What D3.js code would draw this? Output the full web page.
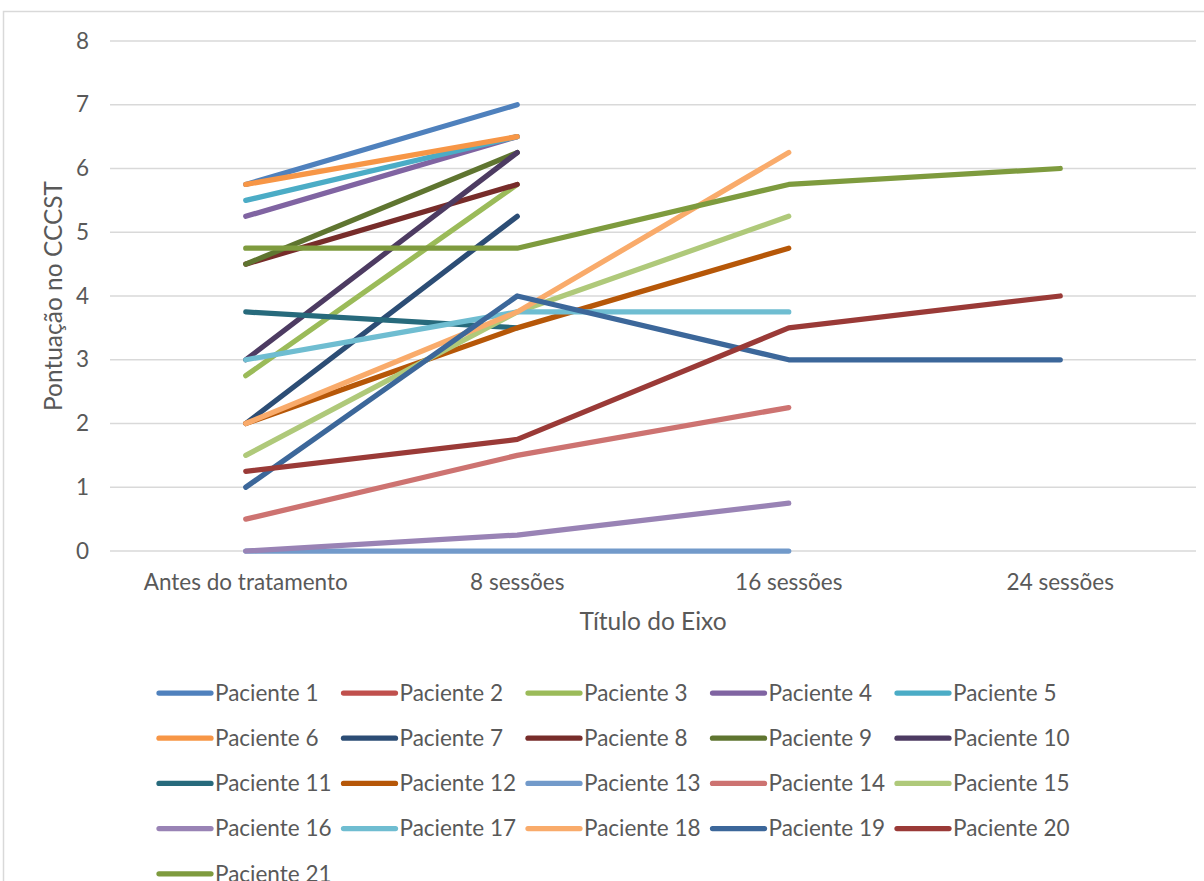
<!DOCTYPE html>
<html>
<head>
<meta charset="utf-8">
<script src="https://cdn.jsdelivr.net/npm/d3@7"></script>
<style>
  body { margin: 0; background: #fff; }
  text { font-family: Lato, "Open Sans", sans-serif; fill: #595959; }
</style>
</head>
<body>
<script>
const categories = ["Antes do tratamento", "8 sessões", "16 sessões", "24 sessões"];
const yTicks = [0, 1, 2, 3, 4, 5, 6, 7, 8];

const seriesNames = [
  "Paciente 1", "Paciente 2", "Paciente 3", "Paciente 4", "Paciente 5",
  "Paciente 6", "Paciente 7", "Paciente 8", "Paciente 9", "Paciente 10",
  "Paciente 11", "Paciente 12", "Paciente 13", "Paciente 14", "Paciente 15",
  "Paciente 16", "Paciente 17", "Paciente 18", "Paciente 19", "Paciente 20",
  "Paciente 21"
];

const seriesColors = [
  "#4f81bd", "#c0504d", "#9bbb59", "#8064a2", "#4bacc6",
  "#f79646", "#2c4d75", "#772c2a", "#5f7530", "#4d3b62",
  "#276a7c", "#b65708", "#729aca", "#cd7371", "#afc97a",
  "#9983b5", "#6fbdd1", "#f9ab6b", "#3c679a", "#9a3a37",
  "#7e9b3e"
];

// one row per patient, null = no value at that stage
const seriesValues = [
  [5.75, 7, null, null],
  [null, null, null, null],
  [2.75, 5.75, null, null],
  [5.25, 6.5, null, null],
  [5.5, 6.5, null, null],
  [5.75, 6.5, null, null],
  [2, 5.25, null, null],
  [4.5, 5.75, null, null],
  [4.5, 6.25, null, null],
  [3, 6.25, null, null],
  [3.75, 3.5, null, null],
  [2, 3.5, 4.75, null],
  [0, 0, 0, null],
  [0.5, 1.5, 2.25, null],
  [1.5, 3.75, 5.25, null],
  [0, 0.25, 0.75, null],
  [3, 3.75, 3.75, null],
  [2, 3.75, 6.25, null],
  [1, 4, 3, 3],
  [1.25, 1.75, 3.5, 4],
  [4.75, 4.75, 5.75, 6]
];

const W = 1204, H = 881;
const plot = { left: 110, right: 1196, top: 41, bottom: 551 };

const svg = d3.select("body").append("svg")
  .attr("width", W)
  .attr("height", H);

// chart frame (only the top edge is visible in the crop)
svg.append("rect")
  .attr("x", 3.5).attr("y", 11.5)
  .attr("width", W + 10).attr("height", H + 10)
  .attr("fill", "none")
  .attr("stroke", "#d9d9d9")
  .attr("stroke-width", 1.5);

const x = d3.scaleBand()
  .domain(categories)
  .range([plot.left, plot.right]);

const y = d3.scaleLinear()
  .domain([0, 8])
  .range([plot.bottom, plot.top]);

// gridlines
svg.append("g").selectAll("line")
  .data(yTicks)
  .enter()
  .append("line")
  .attr("x1", plot.left)
  .attr("x2", plot.right)
  .attr("y1", d => y(d))
  .attr("y2", d => y(d))
  .attr("stroke", "#d9d9d9")
  .attr("stroke-width", 1.5);

// y axis labels
const yAxis = svg.append("g")
  .attr("transform", `translate(${plot.left - 21},0)`)
  .call(d3.axisLeft(y).tickValues(yTicks).tickSize(0).tickPadding(0));
yAxis.select(".domain").remove();
yAxis.selectAll("text")
  .attr("fill", "#595959")
  .style("font-family", "Lato, sans-serif")
  .style("font-size", "22.5px");

// x axis labels
const xAxis = svg.append("g")
  .attr("transform", `translate(0,${plot.bottom})`)
  .call(d3.axisBottom(x).tickSize(0).tickPadding(23));
xAxis.select(".domain").remove();
xAxis.selectAll("text")
  .attr("fill", "#595959")
  .style("font-family", "Lato, sans-serif")
  .style("font-size", "22.5px");

// axis titles
svg.append("text")
  .attr("x", x.range()[0] + (x.range()[1] - x.range()[0]) / 2)
  .attr("y", 630)
  .attr("text-anchor", "middle")
  .style("font-size", "24.5px")
  .text("Título do Eixo");

svg.append("text")
  .attr("transform", `translate(62,${(plot.top + plot.bottom) / 2}) rotate(-90)`)
  .attr("text-anchor", "middle")
  .style("font-size", "24.5px")
  .text("Pontuação no CCCST");

// lines
const line = d3.line()
  .defined(d => d.v !== null)
  .x(d => x(d.c) + x.bandwidth() / 2)
  .y(d => y(d.v));

const series = seriesNames.map((name, i) => ({
  name,
  color: seriesColors[i],
  points: categories.map((c, j) => ({ c, v: seriesValues[i][j] }))
}));

svg.append("g").selectAll("path")
  .data(series)
  .enter()
  .append("path")
  .attr("d", d => line(d.points))
  .attr("fill", "none")
  .attr("stroke", d => d.color)
  .attr("stroke-width", 5.25)
  .attr("stroke-linecap", "round")
  .attr("stroke-linejoin", "round");

// legend
const legendCols = 5;
const legendX = 157, legendY = 693, colStep = 184.5, rowStep = 45.2;

const legend = svg.append("g").selectAll("g")
  .data(series)
  .enter()
  .append("g")
  .attr("transform", (d, i) =>
    `translate(${legendX + (i % legendCols) * colStep},${legendY + Math.floor(i / legendCols) * rowStep})`);

legend.append("line")
  .attr("x1", 2).attr("x2", 54)
  .attr("y1", 0).attr("y2", 0)
  .attr("stroke", d => d.color)
  .attr("stroke-width", 5.25)
  .attr("stroke-linecap", "round");

legend.append("text")
  .attr("x", 58)
  .attr("dy", "0.35em")
  .style("font-size", "22.5px")
  .text(d => d.name);
</script>
</body>
</html>
